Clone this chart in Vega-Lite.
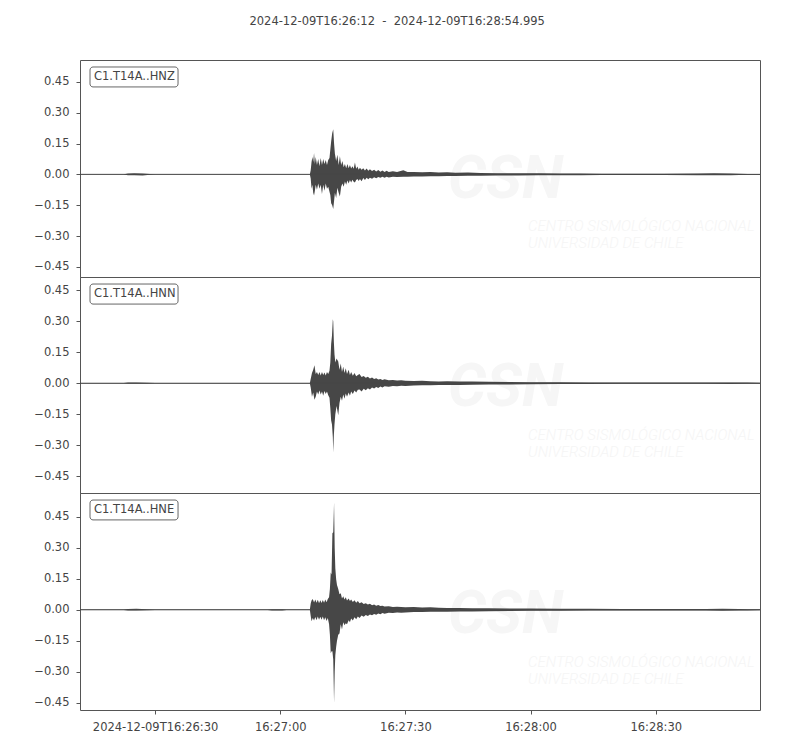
{
  "$schema": "https://vega.github.io/schema/vega-lite/v6.json",
  "background": "white",
  "padding": {"left": 33, "top": 16, "right": 10, "bottom": 5},
  "bounds": "flush",
  "title": {
    "text": "2024-12-09T16:26:12\u00a0 -\u00a0 2024-12-09T16:28:54.995",
    "frame": "bounds",
    "anchor": "middle",
    "font": "DejaVu Sans",
    "fontSize": 11.5,
    "fontWeight": "normal",
    "color": "#444444",
    "offset": 32
  },
  "spacing": 0,
  "config": {
    "view": {"stroke": "#555555", "strokeWidth": 1},
    "axis": {
      "labelFont": "DejaVu Sans",
      "labelFontSize": 11.5,
      "labelColor": "#444444",
      "labelOverlap": false,
      "labelBound": false,
      "labelFlush": false,
      "tickColor": "#555555",
      "tickSize": 4,
      "tickCount": 12,
      "domain": false,
      "grid": false,
      "title": null
    },
    "concat": {"spacing": 0}
  },
  "datasets": {
    "z": [
      {"t": 0, "h": 0.001, "l": -0.001}, {"t": 10.5, "h": 0.001, "l": -0.001}, {"t": 11.5, "h": 0.004, "l": -0.004},
      {"t": 13, "h": 0.005, "l": -0.004}, {"t": 15, "h": 0.004, "l": -0.005}, {"t": 16.8, "h": 0.002, "l": -0.002},
      {"t": 18, "h": 0.001, "l": -0.001}, {"t": 55.1, "h": 0.001, "l": -0.001},
      {"t": 55.3, "h": 0.02, "l": -0.02}, {"t": 55.5, "h": 0.06, "l": -0.07}, {"t": 55.7, "h": 0.085, "l": -0.05},
      {"t": 55.9, "h": 0.06, "l": -0.09}, {"t": 56.1, "h": 0.104, "l": -0.103}, {"t": 56.3, "h": 0.05, "l": -0.08},
      {"t": 56.5, "h": 0.085, "l": -0.05}, {"t": 56.8, "h": 0.045, "l": -0.075}, {"t": 57.1, "h": 0.075, "l": -0.045},
      {"t": 57.4, "h": 0.04, "l": -0.07}, {"t": 57.7, "h": 0.08, "l": -0.05}, {"t": 58.0, "h": 0.045, "l": -0.095},
      {"t": 58.3, "h": 0.075, "l": -0.05}, {"t": 58.6, "h": 0.05, "l": -0.08}, {"t": 58.9, "h": 0.07, "l": -0.045},
      {"t": 59.2, "h": 0.045, "l": -0.07}, {"t": 59.5, "h": 0.07, "l": -0.06}, {"t": 59.8, "h": 0.08, "l": -0.085},
      {"t": 60.0, "h": 0.12, "l": -0.1}, {"t": 60.2, "h": 0.16, "l": -0.14}, {"t": 60.45, "h": 0.2, "l": -0.15},
      {"t": 60.7, "h": 0.219, "l": -0.168}, {"t": 60.9, "h": 0.15, "l": -0.13}, {"t": 61.1, "h": 0.1, "l": -0.09},
      {"t": 61.4, "h": 0.065, "l": -0.115}, {"t": 61.7, "h": 0.095, "l": -0.065}, {"t": 62.0, "h": 0.045, "l": -0.09},
      {"t": 62.3, "h": 0.088, "l": -0.108}, {"t": 62.6, "h": 0.045, "l": -0.06}, {"t": 62.9, "h": 0.065, "l": -0.045},
      {"t": 63.2, "h": 0.035, "l": -0.06}, {"t": 63.5, "h": 0.05, "l": -0.035}, {"t": 63.8, "h": 0.03, "l": -0.05},
      {"t": 64.1, "h": 0.05, "l": -0.03}, {"t": 64.4, "h": 0.03, "l": -0.045}, {"t": 64.7, "h": 0.045, "l": -0.028},
      {"t": 65.0, "h": 0.028, "l": -0.04}, {"t": 65.3, "h": 0.04, "l": -0.026}, {"t": 65.6, "h": 0.027, "l": -0.036},
      {"t": 65.9, "h": 0.058, "l": -0.04}, {"t": 66.2, "h": 0.027, "l": -0.028}, {"t": 66.5, "h": 0.038, "l": -0.022},
      {"t": 66.8, "h": 0.022, "l": -0.032}, {"t": 67.1, "h": 0.032, "l": -0.022}, {"t": 67.5, "h": 0.022, "l": -0.034},
      {"t": 67.9, "h": 0.03, "l": -0.018}, {"t": 68.3, "h": 0.019, "l": -0.027}, {"t": 68.7, "h": 0.028, "l": -0.017},
      {"t": 69.1, "h": 0.017, "l": -0.024}, {"t": 69.5, "h": 0.025, "l": -0.016}, {"t": 70.0, "h": 0.016, "l": -0.021},
      {"t": 70.5, "h": 0.023, "l": -0.014}, {"t": 71.0, "h": 0.014, "l": -0.019}, {"t": 71.5, "h": 0.021, "l": -0.013},
      {"t": 72.0, "h": 0.013, "l": -0.017}, {"t": 72.5, "h": 0.019, "l": -0.012}, {"t": 73.0, "h": 0.012, "l": -0.016},
      {"t": 73.5, "h": 0.017, "l": -0.011}, {"t": 74.0, "h": 0.012, "l": -0.015}, {"t": 75.0, "h": 0.015, "l": -0.011},
      {"t": 76.0, "h": 0.011, "l": -0.013}, {"t": 77.5, "h": 0.02, "l": -0.012}, {"t": 78.5, "h": 0.011, "l": -0.011},
      {"t": 80, "h": 0.012, "l": -0.01}, {"t": 82, "h": 0.01, "l": -0.01}, {"t": 84, "h": 0.011, "l": -0.009},
      {"t": 86, "h": 0.009, "l": -0.009}, {"t": 88, "h": 0.01, "l": -0.008}, {"t": 90, "h": 0.008, "l": -0.008},
      {"t": 93, "h": 0.009, "l": -0.007}, {"t": 96, "h": 0.007, "l": -0.007}, {"t": 100, "h": 0.006, "l": -0.006},
      {"t": 105, "h": 0.005, "l": -0.005}, {"t": 110, "h": 0.005, "l": -0.004}, {"t": 115, "h": 0.004, "l": -0.004},
      {"t": 120, "h": 0.004, "l": -0.004}, {"t": 125, "h": 0.003, "l": -0.003}, {"t": 130, "h": 0.003, "l": -0.003},
      {"t": 140, "h": 0.003, "l": -0.003}, {"t": 148, "h": 0.004, "l": -0.004}, {"t": 152, "h": 0.005, "l": -0.004},
      {"t": 156, "h": 0.004, "l": -0.004}, {"t": 160, "h": 0.002, "l": -0.002}, {"t": 162.995, "h": 0.002, "l": -0.002}
    ],
    "n": [
      {"t": 0, "h": 0.001, "l": -0.001}, {"t": 10.5, "h": 0.001, "l": -0.001}, {"t": 11.5, "h": 0.003, "l": -0.003},
      {"t": 13.5, "h": 0.004, "l": -0.003}, {"t": 16, "h": 0.002, "l": -0.002}, {"t": 18, "h": 0.001, "l": -0.001},
      {"t": 55.1, "h": 0.001, "l": -0.001},
      {"t": 55.3, "h": 0.02, "l": -0.02}, {"t": 55.6, "h": 0.05, "l": -0.065}, {"t": 55.9, "h": 0.065, "l": -0.045},
      {"t": 56.2, "h": 0.087, "l": -0.08}, {"t": 56.5, "h": 0.045, "l": -0.065}, {"t": 56.8, "h": 0.055, "l": -0.04},
      {"t": 57.1, "h": 0.04, "l": -0.055}, {"t": 57.4, "h": 0.055, "l": -0.035}, {"t": 57.7, "h": 0.038, "l": -0.055},
      {"t": 58.0, "h": 0.055, "l": -0.04}, {"t": 58.3, "h": 0.04, "l": -0.06}, {"t": 58.6, "h": 0.052, "l": -0.038},
      {"t": 58.9, "h": 0.038, "l": -0.052}, {"t": 59.2, "h": 0.055, "l": -0.04}, {"t": 59.5, "h": 0.045, "l": -0.058},
      {"t": 59.8, "h": 0.06, "l": -0.07}, {"t": 60.0, "h": 0.1, "l": -0.12}, {"t": 60.2, "h": 0.19, "l": -0.18},
      {"t": 60.4, "h": 0.23, "l": -0.2}, {"t": 60.6, "h": 0.31, "l": -0.26}, {"t": 60.7, "h": 0.3, "l": -0.334},
      {"t": 60.85, "h": 0.2, "l": -0.25}, {"t": 61.0, "h": 0.14, "l": -0.2}, {"t": 61.2, "h": 0.1, "l": -0.15},
      {"t": 61.5, "h": 0.12, "l": -0.11}, {"t": 61.9, "h": 0.105, "l": -0.155}, {"t": 62.2, "h": 0.065, "l": -0.095},
      {"t": 62.5, "h": 0.095, "l": -0.065}, {"t": 62.8, "h": 0.055, "l": -0.085}, {"t": 63.1, "h": 0.08, "l": -0.055},
      {"t": 63.4, "h": 0.05, "l": -0.075}, {"t": 63.7, "h": 0.072, "l": -0.05}, {"t": 64.0, "h": 0.045, "l": -0.065},
      {"t": 64.4, "h": 0.065, "l": -0.045}, {"t": 64.7, "h": 0.04, "l": -0.06}, {"t": 65.0, "h": 0.055, "l": -0.04},
      {"t": 65.4, "h": 0.036, "l": -0.052}, {"t": 65.8, "h": 0.05, "l": -0.035}, {"t": 66.2, "h": 0.034, "l": -0.045},
      {"t": 66.6, "h": 0.04, "l": -0.032}, {"t": 67.0, "h": 0.045, "l": -0.03}, {"t": 67.5, "h": 0.03, "l": -0.04},
      {"t": 68.0, "h": 0.035, "l": -0.027}, {"t": 68.5, "h": 0.027, "l": -0.034}, {"t": 69.0, "h": 0.032, "l": -0.024},
      {"t": 69.5, "h": 0.023, "l": -0.03}, {"t": 70.0, "h": 0.028, "l": -0.021}, {"t": 70.5, "h": 0.02, "l": -0.026},
      {"t": 71.0, "h": 0.024, "l": -0.018}, {"t": 71.5, "h": 0.018, "l": -0.023}, {"t": 72.0, "h": 0.021, "l": -0.016},
      {"t": 72.5, "h": 0.016, "l": -0.02}, {"t": 73.0, "h": 0.019, "l": -0.015}, {"t": 74.0, "h": 0.015, "l": -0.017},
      {"t": 75.0, "h": 0.016, "l": -0.013}, {"t": 76.0, "h": 0.013, "l": -0.015}, {"t": 77.0, "h": 0.014, "l": -0.012},
      {"t": 78.0, "h": 0.012, "l": -0.013}, {"t": 80, "h": 0.011, "l": -0.011}, {"t": 82, "h": 0.012, "l": -0.01},
      {"t": 84, "h": 0.01, "l": -0.01}, {"t": 86, "h": 0.009, "l": -0.009}, {"t": 88, "h": 0.01, "l": -0.008},
      {"t": 91, "h": 0.008, "l": -0.008}, {"t": 94, "h": 0.008, "l": -0.007}, {"t": 98, "h": 0.007, "l": -0.006},
      {"t": 103, "h": 0.006, "l": -0.006}, {"t": 108, "h": 0.005, "l": -0.005}, {"t": 115, "h": 0.005, "l": -0.004},
      {"t": 122, "h": 0.004, "l": -0.004}, {"t": 130, "h": 0.004, "l": -0.003}, {"t": 140, "h": 0.003, "l": -0.003},
      {"t": 150, "h": 0.003, "l": -0.003}, {"t": 156, "h": 0.004, "l": -0.004}, {"t": 160, "h": 0.003, "l": -0.003},
      {"t": 162.995, "h": 0.002, "l": -0.002}
    ],
    "e": [
      {"t": 0, "h": 0.001, "l": -0.001}, {"t": 10.5, "h": 0.001, "l": -0.001}, {"t": 11.5, "h": 0.004, "l": -0.004},
      {"t": 13.5, "h": 0.005, "l": -0.004}, {"t": 16, "h": 0.002, "l": -0.002}, {"t": 18, "h": 0.001, "l": -0.001},
      {"t": 45, "h": 0.001, "l": -0.001}, {"t": 46, "h": 0.003, "l": -0.003}, {"t": 48.5, "h": 0.003, "l": -0.003},
      {"t": 49.5, "h": 0.001, "l": -0.001}, {"t": 55.1, "h": 0.001, "l": -0.001},
      {"t": 55.3, "h": 0.03, "l": -0.03}, {"t": 55.5, "h": 0.045, "l": -0.055}, {"t": 55.8, "h": 0.052, "l": -0.04},
      {"t": 56.1, "h": 0.035, "l": -0.052}, {"t": 56.4, "h": 0.05, "l": -0.035}, {"t": 56.7, "h": 0.034, "l": -0.05},
      {"t": 57.0, "h": 0.048, "l": -0.032}, {"t": 57.3, "h": 0.032, "l": -0.048}, {"t": 57.6, "h": 0.046, "l": -0.034},
      {"t": 57.9, "h": 0.033, "l": -0.048}, {"t": 58.2, "h": 0.047, "l": -0.033}, {"t": 58.5, "h": 0.034, "l": -0.05},
      {"t": 58.8, "h": 0.05, "l": -0.036}, {"t": 59.1, "h": 0.036, "l": -0.054}, {"t": 59.4, "h": 0.052, "l": -0.04},
      {"t": 59.7, "h": 0.06, "l": -0.07}, {"t": 59.9, "h": 0.1, "l": -0.12}, {"t": 60.1, "h": 0.18, "l": -0.21},
      {"t": 60.3, "h": 0.17, "l": -0.2}, {"t": 60.5, "h": 0.37, "l": -0.2}, {"t": 60.7, "h": 0.375, "l": -0.24},
      {"t": 60.9, "h": 0.518, "l": -0.449}, {"t": 61.05, "h": 0.3, "l": -0.3}, {"t": 61.2, "h": 0.2, "l": -0.22},
      {"t": 61.4, "h": 0.147, "l": -0.18}, {"t": 61.6, "h": 0.12, "l": -0.15}, {"t": 61.9, "h": 0.1, "l": -0.12},
      {"t": 62.2, "h": 0.075, "l": -0.115}, {"t": 62.5, "h": 0.08, "l": -0.07}, {"t": 62.8, "h": 0.055, "l": -0.095},
      {"t": 63.1, "h": 0.065, "l": -0.06}, {"t": 63.4, "h": 0.05, "l": -0.075}, {"t": 63.7, "h": 0.06, "l": -0.065},
      {"t": 64.0, "h": 0.045, "l": -0.07}, {"t": 64.4, "h": 0.055, "l": -0.05}, {"t": 64.7, "h": 0.042, "l": -0.06},
      {"t": 65.0, "h": 0.05, "l": -0.042}, {"t": 65.4, "h": 0.038, "l": -0.052}, {"t": 65.8, "h": 0.046, "l": -0.036},
      {"t": 66.2, "h": 0.034, "l": -0.046}, {"t": 66.6, "h": 0.042, "l": -0.032}, {"t": 67.0, "h": 0.032, "l": -0.04},
      {"t": 67.5, "h": 0.036, "l": -0.028}, {"t": 68.0, "h": 0.028, "l": -0.034}, {"t": 68.5, "h": 0.032, "l": -0.025},
      {"t": 69.0, "h": 0.025, "l": -0.03}, {"t": 69.5, "h": 0.029, "l": -0.023}, {"t": 70.0, "h": 0.022, "l": -0.027},
      {"t": 70.5, "h": 0.026, "l": -0.02}, {"t": 71.0, "h": 0.02, "l": -0.024}, {"t": 71.5, "h": 0.023, "l": -0.018},
      {"t": 72.0, "h": 0.018, "l": -0.021}, {"t": 72.5, "h": 0.02, "l": -0.016}, {"t": 73.0, "h": 0.016, "l": -0.019},
      {"t": 74.0, "h": 0.017, "l": -0.014}, {"t": 75.0, "h": 0.014, "l": -0.016}, {"t": 76.0, "h": 0.015, "l": -0.013},
      {"t": 77.0, "h": 0.013, "l": -0.014}, {"t": 78.0, "h": 0.012, "l": -0.013}, {"t": 80, "h": 0.013, "l": -0.011},
      {"t": 82, "h": 0.011, "l": -0.011}, {"t": 84, "h": 0.012, "l": -0.01}, {"t": 86, "h": 0.01, "l": -0.009},
      {"t": 88, "h": 0.009, "l": -0.009}, {"t": 91, "h": 0.009, "l": -0.008}, {"t": 94, "h": 0.008, "l": -0.008},
      {"t": 98, "h": 0.007, "l": -0.007}, {"t": 103, "h": 0.006, "l": -0.006}, {"t": 108, "h": 0.006, "l": -0.005},
      {"t": 115, "h": 0.005, "l": -0.005}, {"t": 122, "h": 0.005, "l": -0.004}, {"t": 130, "h": 0.004, "l": -0.004},
      {"t": 140, "h": 0.004, "l": -0.003}, {"t": 150, "h": 0.004, "l": -0.004}, {"t": 154, "h": 0.005, "l": -0.005},
      {"t": 158, "h": 0.004, "l": -0.004}, {"t": 160, "h": 0.003, "l": -0.003}, {"t": 162.995, "h": 0.002, "l": -0.002}
    ]
  },
  "vconcat": [
    {
      "width": 680,
      "height": 217,
      "layer": [
        {
          "data": {"values": [{}]},
          "mark": {"type": "text", "font": "Roboto", "fontSize": 60, "fontStyle": "italic", "fontWeight": "bold", "color": "#f6f6f6", "align": "center", "baseline": "middle"},
          "encoding": {"x": {"datum": 102, "type": "quantitative"}, "y": {"datum": -0.025, "type": "quantitative"}, "text": {"value": "CSN"}}
        },
        {
          "data": {"values": [{"s": "CENTRO SISMOLÓGICO NACIONAL", "v": -0.25}, {"s": "UNIVERSIDAD DE CHILE", "v": -0.335}]},
          "mark": {"type": "text", "font": "Roboto", "fontSize": 15, "fontStyle": "italic", "fontWeight": 300, "color": "#f5f5f5", "align": "left", "baseline": "middle"},
          "encoding": {"x": {"datum": 107.4, "type": "quantitative"}, "y": {"field": "v", "type": "quantitative"}, "text": {"field": "s"}}
        },
        {
          "data": {"name": "z"},
          "mark": {"type": "area", "color": "#474747", "clip": true},
          "encoding": {
            "x": {"field": "t", "type": "quantitative", "scale": {"domain": [0, 162.995], "nice": false, "zero": false}, "axis": null},
            "y": {"field": "h", "type": "quantitative", "scale": {"domain": [-0.499, 0.556], "nice": false, "zero": false},
              "axis": {"values": [-0.45, -0.3, -0.15, 0, 0.15, 0.3, 0.45], "tickCount": 12, "format": ".2f", "labelPadding": 7}},
            "y2": {"field": "l"}
          }
        },
        {
          "data": {"values": [{}]},
          "mark": {"type": "rule", "color": "#474747", "strokeWidth": 1},
          "encoding": {"y": {"datum": 0, "type": "quantitative"}}
        },
        {
          "data": {"values": [{}]},
          "mark": {"type": "rect", "fill": "white", "stroke": "#666666", "strokeWidth": 1, "cornerRadius": 3},
          "encoding": {"x": {"datum": 2.4, "type": "quantitative"}, "x2": {"datum": 23.5}, "y": {"datum": 0.522, "type": "quantitative"}, "y2": {"datum": 0.425}}
        },
        {
          "data": {"values": [{}]},
          "mark": {"type": "text", "font": "DejaVu Sans", "fontSize": 11.5, "color": "#444444", "align": "left", "baseline": "middle"},
          "encoding": {"x": {"datum": 3.36, "type": "quantitative"}, "y": {"datum": 0.473, "type": "quantitative"}, "text": {"value": "C1.T14A..HNZ"}}
        }
      ]
    },
    {
      "width": 680,
      "height": 216,
      "layer": [
        {
          "data": {"values": [{}]},
          "mark": {"type": "text", "font": "Roboto", "fontSize": 60, "fontStyle": "italic", "fontWeight": "bold", "color": "#f6f6f6", "align": "center", "baseline": "middle"},
          "encoding": {"x": {"datum": 102, "type": "quantitative"}, "y": {"datum": -0.025, "type": "quantitative"}, "text": {"value": "CSN"}}
        },
        {
          "data": {"values": [{"s": "CENTRO SISMOLÓGICO NACIONAL", "v": -0.25}, {"s": "UNIVERSIDAD DE CHILE", "v": -0.335}]},
          "mark": {"type": "text", "font": "Roboto", "fontSize": 15, "fontStyle": "italic", "fontWeight": 300, "color": "#f5f5f5", "align": "left", "baseline": "middle"},
          "encoding": {"x": {"datum": 107.4, "type": "quantitative"}, "y": {"field": "v", "type": "quantitative"}, "text": {"field": "s"}}
        },
        {
          "data": {"name": "n"},
          "mark": {"type": "area", "color": "#474747", "clip": true},
          "encoding": {
            "x": {"field": "t", "type": "quantitative", "scale": {"domain": [0, 162.995], "nice": false, "zero": false}, "axis": null},
            "y": {"field": "h", "type": "quantitative", "scale": {"domain": [-0.531, 0.514], "nice": false, "zero": false},
              "axis": {"values": [-0.45, -0.3, -0.15, 0, 0.15, 0.3, 0.45], "tickCount": 12, "format": ".2f", "labelPadding": 7}},
            "y2": {"field": "l"}
          }
        },
        {
          "data": {"values": [{}]},
          "mark": {"type": "rule", "color": "#474747", "strokeWidth": 1},
          "encoding": {"y": {"datum": 0, "type": "quantitative"}}
        },
        {
          "data": {"values": [{}]},
          "mark": {"type": "rect", "fill": "white", "stroke": "#666666", "strokeWidth": 1, "cornerRadius": 3},
          "encoding": {"x": {"datum": 2.4, "type": "quantitative"}, "x2": {"datum": 23.5}, "y": {"datum": 0.48, "type": "quantitative"}, "y2": {"datum": 0.383}}
        },
        {
          "data": {"values": [{}]},
          "mark": {"type": "text", "font": "DejaVu Sans", "fontSize": 11.5, "color": "#444444", "align": "left", "baseline": "middle"},
          "encoding": {"x": {"datum": 3.36, "type": "quantitative"}, "y": {"datum": 0.432, "type": "quantitative"}, "text": {"value": "C1.T14A..HNN"}}
        }
      ]
    },
    {
      "width": 680,
      "height": 217,
      "layer": [
        {
          "data": {"values": [{}]},
          "mark": {"type": "text", "font": "Roboto", "fontSize": 60, "fontStyle": "italic", "fontWeight": "bold", "color": "#f6f6f6", "align": "center", "baseline": "middle"},
          "encoding": {"x": {"datum": 102, "type": "quantitative"}, "y": {"datum": -0.025, "type": "quantitative"}, "text": {"value": "CSN"}}
        },
        {
          "data": {"values": [{"s": "CENTRO SISMOLÓGICO NACIONAL", "v": -0.25}, {"s": "UNIVERSIDAD DE CHILE", "v": -0.335}]},
          "mark": {"type": "text", "font": "Roboto", "fontSize": 15, "fontStyle": "italic", "fontWeight": 300, "color": "#f5f5f5", "align": "left", "baseline": "middle"},
          "encoding": {"x": {"datum": 107.4, "type": "quantitative"}, "y": {"field": "v", "type": "quantitative"}, "text": {"field": "s"}}
        },
        {
          "data": {"name": "e"},
          "mark": {"type": "area", "color": "#474747", "clip": true},
          "encoding": {
            "x": {"field": "t", "type": "quantitative", "scale": {"domain": [0, 162.995], "nice": false, "zero": false},
              "axis": {"values": [18, 48, 78, 108, 138], "labelPadding": 7,
                "labelExpr": "datum.value == 18 ? '2024-12-09T16:26:30' : datum.value == 48 ? '16:27:00' : datum.value == 78 ? '16:27:30' : datum.value == 108 ? '16:28:00' : '16:28:30'"}},
            "y": {"field": "h", "type": "quantitative", "scale": {"domain": [-0.484, 0.564], "nice": false, "zero": false},
              "axis": {"values": [-0.45, -0.3, -0.15, 0, 0.15, 0.3, 0.45], "tickCount": 12, "format": ".2f", "labelPadding": 7}},
            "y2": {"field": "l"}
          }
        },
        {
          "data": {"values": [{}]},
          "mark": {"type": "rule", "color": "#474747", "strokeWidth": 1},
          "encoding": {"y": {"datum": 0, "type": "quantitative"}}
        },
        {
          "data": {"values": [{}]},
          "mark": {"type": "rect", "fill": "white", "stroke": "#666666", "strokeWidth": 1, "cornerRadius": 3},
          "encoding": {"x": {"datum": 2.4, "type": "quantitative"}, "x2": {"datum": 23.5}, "y": {"datum": 0.53, "type": "quantitative"}, "y2": {"datum": 0.434}}
        },
        {
          "data": {"values": [{}]},
          "mark": {"type": "text", "font": "DejaVu Sans", "fontSize": 11.5, "color": "#444444", "align": "left", "baseline": "middle"},
          "encoding": {"x": {"datum": 3.36, "type": "quantitative"}, "y": {"datum": 0.482, "type": "quantitative"}, "text": {"value": "C1.T14A..HNE"}}
        }
      ]
    }
  ]
}
